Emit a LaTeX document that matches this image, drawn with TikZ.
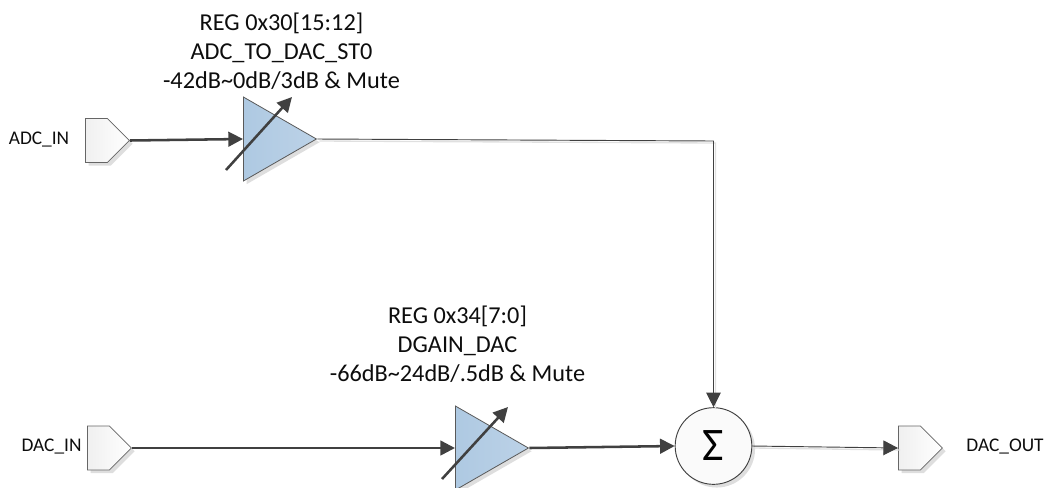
\documentclass[tikz,border=0pt]{standalone}
\usepackage{fontspec}
\setmainfont{Carlito}
\usetikzlibrary{shapes.geometric,shapes.symbols,arrows.meta,shadows}
\tikzset{
 x=0.75pt,y=-0.75pt,
 softshadow/.style={drop shadow={shadow xshift=2.4pt,shadow yshift=-2.4pt,fill=black!13,opacity=1}},
 port/.style={signal,signal to=east,signal pointer angle=90,draw=black!60,line width=0.6pt,inner sep=0pt,anchor=west,
   minimum width=33pt,minimum height=33pt,left color=black!6,right color=white,softshadow},
 amp/.style={isosceles triangle,isosceles triangle stretches,shape border rotate=0,draw=black!65,line width=0.6pt,inner sep=0pt,anchor=lower side,
   minimum width=63pt,minimum height=54.75pt,left color=amp1,right color=amp2,softshadow},
 sumnode/.style={circle,draw=black!75,line width=0.7pt,fill=black!2,inner sep=0pt,minimum size=57.5pt,softshadow,
   font=\fontsize{35}{35}\selectfont},
 lbl/.style={inner sep=0pt,align=center,font=\fontsize{14.5}{21.75}\selectfont,text=black!95},
 reglbl/.style={inner sep=0pt,align=center,font=\fontsize{18.2}{21.75}\selectfont,text=black!95},
 tip/.style={-{Triangle[length=11pt,width=11pt]}},
 heavy/.style={tip,draw=wire,line width=1.9pt},
 thin wire/.style={tip,draw=wire,line width=0.7pt,preaction={draw=black!12,line width=1pt,-,transform canvas={xshift=1.5pt,yshift=-1.5pt}}},
 gainarrow/.style={-{Triangle[length=11pt,width=11pt]},draw=wire,line width=1.9pt},
}
\definecolor{amp1}{HTML}{AEC9E2}
\definecolor{amp2}{HTML}{BCD2E7}
\definecolor{wire}{HTML}{404040}
\begin{document}
\begin{tikzpicture}
\useasboundingbox (0,0) rectangle (1045,487);
\clip (0,0) rectangle (1045,487);
\node[port] (adc) at (85,140.5) {};
\node[port] (dac) at (87,448) {};
\node[port] (out) at (898,448) {};
\node[amp] (ampA) at (243,139) {};
\node[amp] (ampB) at (455,448) {};
\node[sumnode] (sum) at (713.5,446) {Σ};
\node[lbl] (adclbl) at (39,140) {ADC\_IN};
\node[lbl] (daclbl) at (51.5,447) {DAC\_IN};
\node[lbl] (outlbl) at (1005,447) {DAC\_OUT};
\node[reglbl] (regA) at (281.5,51) {REG 0x30[15:12]\\ADC\_TO\_DAC\_ST0\\-42dB\textasciitilde 0dB/3dB \& Mute};
\node[reglbl] (regB) at (457.5,344.5) {REG 0x34[7:0]\\DGAIN\_DAC\\-66dB\textasciitilde 24dB/.5dB \& Mute};
\coordinate (gA0) at (226,170);
\coordinate (gA1) at (292,97);
\coordinate (gB0) at (442,479);
\coordinate (gB1) at (508,407);
\coordinate (bend) at (713.5,141);
\draw[heavy] (adc.east) -- (ampA.lower side);
\draw[heavy] (dac.east) -- (ampB.lower side);
\draw[gainarrow] (gA0) -- (gA1);
\draw[gainarrow] (gB0) -- (gB1);
\draw[heavy] (ampB.apex) -- (sum.west);
\draw[thin wire] (ampA.apex) -- (bend) -- (sum.north);
\draw[thin wire] (sum.east) -- (out.west);
\end{tikzpicture}
\end{document}
